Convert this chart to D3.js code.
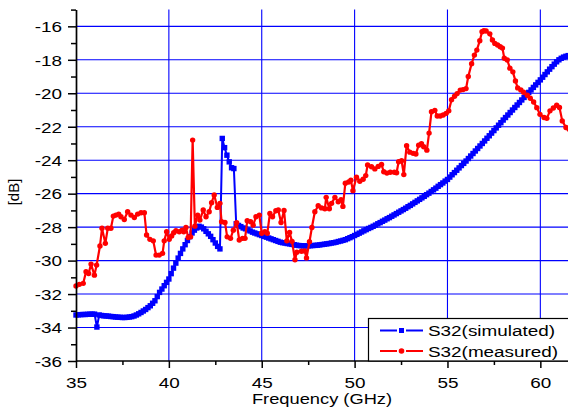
<!DOCTYPE html>
<html>
<head>
<meta charset="utf-8">
<script src="https://cdn.jsdelivr.net/npm/d3@7/dist/d3.min.js"></script>
<style>
  body { margin: 0; background: #fff; }
  svg { display: block; }
  text { font-family: Arial, "Liberation Sans", sans-serif; fill: #000; }
</style>
</head>
<body>
<svg id="chart" width="568" height="410"></svg>
<script>
// ---- data ----------------------------------------------------------------
// Simulated S32, swept from 35 GHz in 0.125 GHz steps (one row per GHz)
const simStart = 35, simStep = 0.125;
const simValues = [
  -33.25,-33.24,-33.23,-33.22,-33.22,-33.21,-33.20,-33.20,
  -33.20,-33.97,-33.25,-33.28,-33.30,-33.31,-33.32,-33.34,
  -33.35,-33.37,-33.38,-33.39,-33.40,-33.40,-33.39,-33.37,
  -33.35,-33.31,-33.25,-33.18,-33.10,-33.01,-32.92,-32.81,
  -32.70,-32.55,-32.40,-32.15,-31.90,-31.70,-31.50,-31.30,
  -31.10,-30.78,-30.45,-30.15,-29.85,-29.57,-29.30,-29.05,
  -28.80,-28.57,-28.35,-28.18,-28.05,-27.95,-28.00,-28.10,
  -28.25,-28.40,-28.55,-28.75,-28.95,-29.15,-29.30,-22.70,
  -23.25,-23.70,-24.10,-24.45,-24.50,-27.80,-27.90,-27.97,
  -28.05,-28.10,-28.17,-28.23,-28.30,-28.35,-28.40,-28.45,
  -28.50,-28.55,-28.60,-28.65,-28.70,-28.75,-28.80,-28.85,
  -28.90,-28.93,-28.95,-28.98,-29.00,-29.03,-29.05,-29.08,
  -29.10,-29.11,-29.12,-29.12,-29.12,-29.11,-29.10,-29.09,
  -29.08,-29.06,-29.04,-29.02,-29.00,-28.98,-28.95,-28.93,
  -28.90,-28.86,-28.83,-28.79,-28.75,-28.69,-28.63,-28.57,
  -28.50,-28.43,-28.36,-28.29,-28.22,-28.15,-28.08,-28.02,
  -27.95,-27.88,-27.80,-27.73,-27.65,-27.58,-27.50,-27.43,
  -27.35,-27.27,-27.19,-27.11,-27.03,-26.95,-26.87,-26.78,
  -26.70,-26.61,-26.52,-26.43,-26.34,-26.25,-26.16,-26.06,
  -25.97,-25.87,-25.77,-25.67,-25.56,-25.46,-25.36,-25.25,
  -25.15,-25.01,-24.87,-24.74,-24.60,-24.46,-24.32,-24.19,
  -24.05,-23.90,-23.75,-23.60,-23.45,-23.30,-23.15,-23.00,
  -22.85,-22.69,-22.54,-22.38,-22.23,-22.07,-21.91,-21.76,
  -21.60,-21.45,-21.30,-21.15,-21.00,-20.85,-20.70,-20.55,
  -20.40,-20.25,-20.10,-19.95,-19.80,-19.65,-19.50,-19.35,
  -19.20,-19.04,-18.88,-18.72,-18.56,-18.41,-18.26,-18.12,
  -18.00,-17.91,-17.84,-17.79,-17.75
];
const simFreq = simValues.map((_, i) => simStart + i * simStep);

// Measured S32
const measFreq = [
  35.00,35.18,35.39,35.54,35.68,35.81,35.99,36.11,36.29,36.40,36.58,36.71,36.88,
  37.01,37.15,37.30,37.42,37.60,37.78,37.96,38.14,38.32,38.50,38.68,38.80,38.98,
  39.16,39.31,39.48,39.66,39.75,39.88,40.02,40.15,40.26,40.38,40.56,40.71,40.80,
  40.92,41.04,41.17,41.28,41.40,41.55,41.67,41.85,42.00,42.17,42.30,42.44,42.61,
  42.75,42.84,43.02,43.14,43.32,43.47,43.65,43.79,43.97,44.10,44.22,44.40,44.54,
  44.69,44.87,45.00,45.17,45.30,45.44,45.58,45.76,45.89,46.04,46.20,46.35,46.50,
  46.63,46.79,46.89,47.14,47.31,47.41,47.57,47.70,47.86,48.04,48.22,48.40,48.47,
  48.64,48.76,48.94,49.12,49.27,49.37,49.50,49.68,49.80,49.91,50.10,50.28,50.46,
  50.60,50.70,50.91,51.09,51.27,51.45,51.57,51.74,51.92,52.14,52.26,52.37,52.53,
  52.65,52.80,52.97,53.15,53.30,53.45,53.60,53.72,53.89,54.01,54.14,54.32,54.45,
  54.61,54.77,54.93,55.07,55.22,55.38,55.52,55.69,55.84,56.00,56.12,56.30,56.45,
  56.58,56.74,56.86,56.96,57.08,57.28,57.42,57.55,57.70,57.84,57.96,58.06,58.22,
  58.36,58.52,58.66,58.78,58.95,59.10,59.30,59.46,59.64,59.81,59.98,60.20,60.35,
  60.52,60.70,60.88,61.03,61.18,61.38,61.55
];
const measValues = [
  -31.52,-31.42,-31.36,-30.67,-30.77,-30.21,-30.87,-30.27,-29.13,-28.07,-28.97,-28.07,-28.07,
  -27.34,-27.28,-27.22,-27.38,-27.54,-27.08,-27.28,-27.42,-27.22,-27.14,-27.14,-28.47,-28.73,
  -28.82,-29.67,-29.67,-29.57,-28.82,-28.28,-28.73,-28.53,-28.34,-28.22,-28.28,-28.18,-28.28,
  -28.02,-28.62,-28.58,-22.80,-27.94,-27.28,-27.58,-26.98,-27.38,-27.08,-26.54,-26.08,-26.82,
  -26.58,-27.68,-27.72,-28.58,-28.67,-28.18,-27.74,-28.77,-28.67,-28.67,-27.62,-27.68,-27.88,
  -27.38,-27.28,-28.37,-28.28,-28.37,-27.18,-27.38,-27.02,-26.98,-27.72,-27.00,-28.82,-28.32,
  -28.85,-29.95,-29.50,-29.44,-29.42,-29.84,-28.87,-28.02,-27.08,-26.72,-26.85,-26.90,-26.22,
  -26.90,-26.58,-26.22,-26.48,-26.36,-26.76,-25.38,-25.30,-25.20,-25.82,-25.02,-25.26,-25.14,
  -24.92,-24.29,-24.39,-24.52,-24.37,-24.26,-24.69,-24.77,-24.72,-24.72,-24.75,-24.09,-24.03,
  -24.86,-23.13,-23.52,-23.59,-23.63,-23.10,-23.02,-23.20,-23.40,-22.38,-21.10,-21.02,-21.36,
  -21.36,-21.30,-21.20,-21.05,-20.38,-20.18,-20.02,-19.81,-19.78,-19.72,-19.00,-18.23,-17.72,
  -17.42,-16.86,-16.32,-16.26,-16.28,-16.45,-16.82,-17.02,-17.12,-17.22,-17.30,-17.91,-18.01,
  -18.50,-18.72,-19.26,-19.68,-19.80,-19.94,-20.12,-20.30,-20.52,-20.86,-21.26,-21.45,-21.50,
  -21.05,-20.88,-20.72,-20.85,-21.65,-22.05,-22.15
];

// Axis ticks
const xMajor = [35, 40, 45, 50, 55, 60];
const xMinor = [37.5, 42.5, 47.5, 52.5, 57.5];
const yMajor = [-36, -34, -32, -30, -28, -26, -24, -22, -20, -18, -16];
const yMinor = [-35, -33, -31, -29, -27, -25, -23, -21, -19, -17, -15];

const seriesNames = ["S32(simulated)", "S32(measured)"];
const xTitle = "Frequency (GHz)";
const yTitle = "[dB]";

// ---- drawing -------------------------------------------------------------
const BLUE = "#0000ff", RED = "#ff0000";
const TXT_SX = 1.22;            // horizontal stretch of all lettering

const svg = d3.select("#chart");
const x = d3.scaleLinear().domain([35, 61.5]).range([76, 568.2]);
const y = d3.scaleLinear().domain([-36, -15]).range([361, 9.6]);

// grid
const grid = svg.append("g").attr("stroke", BLUE).attr("stroke-width", 1.1);
grid.selectAll("line.v").data(xMajor.filter(d => d > 35)).join("line")
  .attr("x1", d => x(d)).attr("x2", d => x(d))
  .attr("y1", y(-15)).attr("y2", y(-36));
grid.selectAll("line.h").data(yMajor.filter(d => d > -36)).join("line")
  .attr("x1", x(35)).attr("x2", 568)
  .attr("y1", d => y(d)).attr("y2", d => y(d));

// simulated series
const simPts = simFreq.map((f, i) => [f, simValues[i]]);
const measPts = measFreq.map((f, i) => [f, measValues[i]]);
const line = d3.line().x(d => x(d[0])).y(d => y(d[1]));

svg.append("path").datum(simPts).attr("d", line)
  .attr("fill", "none").attr("stroke", BLUE).attr("stroke-width", 2);
svg.append("g").selectAll("rect").data(simPts).join("rect")
  .attr("x", d => x(d[0]) - 2.7).attr("y", d => y(d[1]) - 2.7)
  .attr("width", 5.4).attr("height", 5.4).attr("fill", BLUE);

// measured series
svg.append("path").datum(measPts).attr("d", line)
  .attr("fill", "none").attr("stroke", RED).attr("stroke-width", 2.2)
  .attr("stroke-linejoin", "round");
svg.append("g").selectAll("circle").data(measPts).join("circle")
  .attr("cx", d => x(d[0])).attr("cy", d => y(d[1]))
  .attr("r", 2.7).attr("fill", RED);

// axes
function styleAxis(g) {
  g.selectAll("path.domain").attr("stroke", "#000").attr("stroke-width", 1.7);
  g.selectAll(".tick line").attr("stroke", "#000").attr("stroke-width", 1.5);
}

const yAxis = svg.append("g").attr("transform", `translate(${x(35)},0)`)
  .call(d3.axisLeft(y).tickValues(yMajor).tickSize(8).tickSizeOuter(0)
    .tickFormat(d => String(d)))
  .call(styleAxis);
yAxis.selectAll(".tick text")
  .attr("x", null).attr("dy", "0.34em")
  .attr("transform", `translate(-14,0) scale(${TXT_SX},1)`)
  .style("font-size", "15.5px").attr("fill", "#000");

svg.append("g").attr("transform", `translate(${x(35)},0)`)
  .call(d3.axisLeft(y).tickValues(yMinor).tickSize(5).tickFormat(""))
  .call(styleAxis).select("path.domain").remove();

const xAxis = svg.append("g").attr("transform", `translate(0,${y(-36)})`)
  .call(d3.axisBottom(x).tickValues(xMajor).tickSize(7).tickSizeOuter(0)
    .tickFormat(d => String(d)))
  .call(styleAxis);
xAxis.select("path.domain").attr("d", `M${x(35)},0H568`);
xAxis.selectAll(".tick text")
  .attr("y", null).attr("dy", null)
  .attr("transform", `translate(0,26.5) scale(${TXT_SX},1)`)
  .style("font-size", "15.5px").attr("fill", "#000");

svg.append("g").attr("transform", `translate(0,${y(-36)})`)
  .call(d3.axisBottom(x).tickValues(xMinor).tickSize(4).tickFormat(""))
  .call(styleAxis).select("path.domain").remove();

// axis titles
svg.append("text")
  .attr("transform", `translate(322,404) scale(${TXT_SX},1)`)
  .attr("text-anchor", "middle").style("font-size", "15px").text(xTitle);
svg.append("text")
  .attr("transform", "translate(19,192) rotate(-90)")
  .attr("text-anchor", "middle").style("font-size", "15px").text(yTitle);

// legend
const lg = svg.append("g");
lg.append("rect").attr("x", 368.5).attr("y", 318.5).attr("width", 220).attr("height", 42.5)
  .attr("fill", "#fff").attr("stroke", "#000").attr("stroke-width", 1.2);
const legendRows = [
  { name: seriesNames[0], color: BLUE, shape: "square", cy: 330.5, base: 336 },
  { name: seriesNames[1], color: RED, shape: "circle", cy: 351, base: 356.5 }
];
legendRows.forEach(r => {
  lg.append("line").attr("x1", 380).attr("x2", 397).attr("y1", r.cy).attr("y2", r.cy)
    .attr("stroke", r.color).attr("stroke-width", 2);
  lg.append("line").attr("x1", 406).attr("x2", 423).attr("y1", r.cy).attr("y2", r.cy)
    .attr("stroke", r.color).attr("stroke-width", 2);
  if (r.shape === "square") {
    lg.append("rect").attr("x", 401.5 - 2.5).attr("y", r.cy - 2.5)
      .attr("width", 5).attr("height", 5).attr("fill", r.color);
  } else {
    lg.append("circle").attr("cx", 401.5).attr("cy", r.cy).attr("r", 2.8).attr("fill", r.color);
  }
  lg.append("text")
    .attr("transform", `translate(428,${r.base}) scale(${TXT_SX},1)`)
    .style("font-size", "15.5px").text(r.name);
});
</script>
</body>
</html>
